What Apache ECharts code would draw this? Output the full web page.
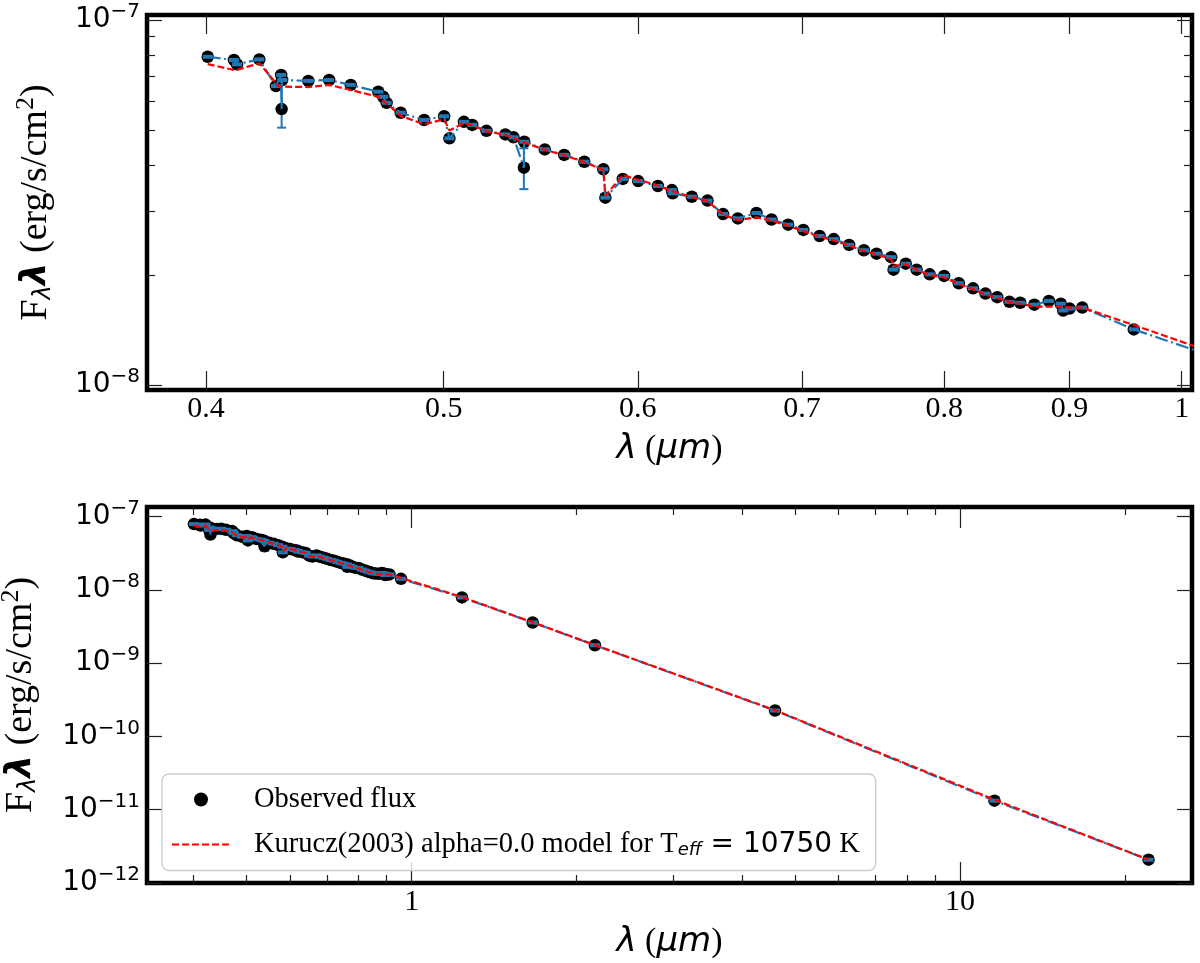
<!DOCTYPE html>
<html>
<head>
<meta charset="utf-8">
<title>SED</title>
<script src="https://cdn.jsdelivr.net/npm/echarts@6/dist/echarts.min.js"></script>
<style>
html, body { margin: 0; padding: 0; background: #fff; }
#main { width: 1200px; height: 963px; }
</style>
</head>
<body>
<div id="main"></div>
<script>
// 观测流量 (波长 um, F*lambda erg/s/cm2)
var obsWave = [0.4006,0.4106,0.4118,0.4205,0.4271,0.4292,0.4294,0.4296,0.4403,0.4490,0.4582,0.4702,0.4724,0.4739,0.4802,0.4909,0.5002,0.5027,0.5096,0.5136,
    0.5205,0.5298,0.5339,0.5391,0.5393,0.5498,0.5599,0.5706,0.5809,0.5820,0.5916,0.6002,0.6114,0.6195,0.6200,0.6312,0.6406,0.6500,0.6591,0.6707,
    0.6803,0.6910,0.7009,0.7117,0.7212,0.7317,0.7419,0.7508,0.7612,0.7629,0.7717,0.7796,0.7892,0.8000,0.8111,0.8220,0.8317,0.8409,0.8506,0.8593,
    0.8707,0.8827,0.8926,0.8947,0.9000,0.9108,0.9560,1.235,1.662,2.159,4.60,11.56,22.08];
var obsFlux = [7.93e-8,7.77e-8,7.56e-8,7.80e-8,6.59e-8,7.07e-8,5.70e-8,6.85e-8,6.81e-8,6.85e-8,6.64e-8,6.36e-8,6.16e-8,5.93e-8,5.57e-8,5.32e-8,5.45e-8,4.74e-8,5.26e-8,5.16e-8,
    4.97e-8,4.86e-8,4.77e-8,3.94e-8,4.64e-8,4.42e-8,4.27e-8,4.09e-8,3.90e-8,3.26e-8,3.67e-8,3.62e-8,3.51e-8,3.42e-8,3.35e-8,3.28e-8,3.20e-8,2.94e-8,2.86e-8,2.96e-8,
    2.84e-8,2.75e-8,2.66e-8,2.56e-8,2.51e-8,2.42e-8,2.34e-8,2.29e-8,2.24e-8,2.07e-8,2.15e-8,2.07e-8,2.01e-8,1.99e-8,1.90e-8,1.84e-8,1.78e-8,1.74e-8,1.69e-8,1.68e-8,
    1.66e-8,1.70e-8,1.67e-8,1.60e-8,1.62e-8,1.63e-8,1.42e-8,7.90e-9,3.60e-9,1.76e-9,2.26e-10,1.33e-11,2.08e-12];

// 误差棒 (只有两个点看得出来)
var errWave = [0.4294, 0.5391];
var errLow = [5.07e-8, 3.44e-8];
var errHigh = [7.00e-8, 4.45e-8];

// Kurucz 模型
var modelWave = [0.4006,0.4112,0.4205,0.4283,0.4403,0.4490,0.4582,0.4702,0.4739,0.4802,0.4909,0.5002,0.5027,0.5096,0.5136,0.5205,0.5298,0.5339,0.5392,0.5498,
    0.5599,0.5706,0.5809,0.5820,0.5916,0.6002,0.6114,0.6195,0.6312,0.6406,0.6500,0.6591,0.6707,0.6803,0.6910,0.7009,0.7117,0.7212,0.7317,0.7419,
    0.7508,0.7612,0.7629,0.7717,0.7796,0.7892,0.8000,0.8111,0.8220,0.8317,0.8409,0.8506,0.8593,0.8707,0.8827,0.8926,0.9000,0.9108,0.9560,1.235,
    1.662,2.159,4.60,11.56,22.08];
var modelFlux = [7.57e-8,7.28e-8,7.61e-8,6.57e-8,6.55e-8,6.64e-8,6.43e-8,6.16e-8,5.91e-8,5.46e-8,5.18e-8,5.34e-8,4.98e-8,5.22e-8,5.14e-8,4.96e-8,4.84e-8,4.75e-8,4.62e-8,4.41e-8,
    4.26e-8,4.08e-8,3.88e-8,3.30e-8,3.76e-8,3.65e-8,3.52e-8,3.40e-8,3.27e-8,3.19e-8,2.93e-8,2.83e-8,2.88e-8,2.82e-8,2.73e-8,2.64e-8,2.55e-8,2.49e-8,2.41e-8,2.33e-8,
    2.28e-8,2.21e-8,2.12e-8,2.14e-8,2.07e-8,2.00e-8,1.97e-8,1.89e-8,1.83e-8,1.77e-8,1.73e-8,1.69e-8,1.67e-8,1.64e-8,1.64e-8,1.64e-8,1.63e-8,1.63e-8,1.46e-8,8.0e-9,
    3.62e-9,1.77e-9,2.28e-10,1.37e-11,2.08e-12];

// 刻度
var topXTicks = [0.4, 0.5, 0.6, 0.7, 0.8, 0.9, 1];
var topYMajor = [1e-8, 1e-7];
var topYMinor = [2e-8, 3e-8, 4e-8, 5e-8, 6e-8, 7e-8, 8e-8, 9e-8];
var botXMajor = [1, 10];
var botXMinor = [0.4, 0.5, 0.6, 0.7, 0.8, 0.9, 2, 3, 4, 5, 6, 7, 8, 9, 20];
var botYMajor = [1e-12, 1e-11, 1e-10, 1e-9, 1e-8, 1e-7];

var MODEL_NAME = 'Kurucz(2003) alpha=0.0 model for Teff = 10750 K';
var SERIF = "'Liberation Serif', 'Times New Roman', serif";
var SANS = "'DejaVu Sans', sans-serif";
var BLUE = '#1f77b4';

var chart = echarts.init(document.getElementById('main'));

function pairs(xs, ys) {
    var out = [];
    for (var i = 0; i < xs.length; i++) out.push([xs[i], ys[i]]);
    return out;
}
// 蓝线: 离群点不画帽子
function blueData() {
    var out = [];
    for (var i = 0; i < obsWave.length; i++) {
        var item = { value: [obsWave[i], obsFlux[i]] };
        if (errWave.indexOf(obsWave[i]) >= 0) item.symbol = 'none';
        out.push(item);
    }
    return out;
}
function errData() {
    var out = [];
    for (var i = 0; i < errWave.length; i++) out.push([errWave[i], errLow[i], errHigh[i]]);
    return out;
}
function expLabel(v) {
    var e = Math.round(Math.log10(v));
    return '{b|10}{s|' + (e < 0 ? '\u2212' : '') + Math.abs(e) + '}';
}
var expRich = {
    b: { fontFamily: SANS, fontSize: 28, color: '#000' },
    s: { fontFamily: SANS, fontSize: 20, color: '#000', padding: [0, 0, 16, 0] }
};
var tickStyle = { color: '#222', width: 1.2 };
var nameRichX = {
    i: { fontFamily: SANS, fontStyle: 'italic', fontSize: 34, color: '#000' },
    p: { fontFamily: SERIF, fontSize: 34, color: '#000' }
};
var nameRichY = {
    t: { fontFamily: SERIF, fontSize: 38, color: '#000' },
    sub: { fontFamily: SANS, fontStyle: 'italic', fontSize: 24, color: '#000', padding: [16, 0, 0, 0] },
    bl: { fontFamily: SANS, fontStyle: 'italic', fontWeight: 'bold', fontSize: 36, color: '#000' },
    sup: { fontFamily: SERIF, fontSize: 26, color: '#000', padding: [0, 0, 20, 0] }
};
var X_NAME = '{i|\u03bb}{p| (}{i|\u03bcm}{p|)}';
var Y_NAME = '{t|F}{sub|\u03bb}{bl|\u03bb}{t| (erg/s/cm}{sup|2}{t|)}';

function xAx(grid, pos, min, max, ticks, len, labels, fmt, name) {
    return {
        gridIndex: grid, type: 'log', logBase: 10, min: min, max: max, position: pos,
        axisLine: { show: false }, splitLine: { show: false },
        axisTick: { show: true, inside: true, length: len, customValues: ticks, lineStyle: tickStyle },
        axisLabel: labels ? { show: true, customValues: ticks, formatter: fmt, margin: 4, color: '#000', fontFamily: SERIF, fontSize: 30 } : { show: false },
        name: name || '', nameLocation: 'middle', nameGap: 42, nameMoveOverlap: false,
        nameTextStyle: { rich: nameRichX }
    };
}
function yAx(grid, pos, min, max, ticks, len, labels, gap) {
    return {
        gridIndex: grid, type: 'log', logBase: 10, min: min, max: max, position: pos,
        axisLine: { show: false }, splitLine: { show: false },
        axisTick: { show: true, inside: true, length: len, customValues: ticks, lineStyle: tickStyle },
        axisLabel: labels ? { show: true, customValues: ticks, formatter: expLabel, margin: 7, rich: expRich } : { show: false },
        name: labels ? Y_NAME : '', nameLocation: 'middle', nameRotate: 90, nameGap: gap || 0, nameMoveOverlap: false,
        nameTextStyle: { rich: nameRichY }
    };
}

var TX = [0.3784, 1.0097], TY = [9.69e-9, 1.032e-7];
var BX = [0.329, 26.5], BY = [1e-12, 1.356e-7];

var option = {
    animation: false,
    backgroundColor: '#fff',
    grid: [
        { left: 147, top: 15, width: 1045, height: 375, show: true, borderColor: '#000', borderWidth: 4.5, backgroundColor: 'transparent', outerBoundsMode: 'none' },
        { left: 147, top: 507, width: 1045, height: 376, show: true, borderColor: '#000', borderWidth: 4.5, backgroundColor: 'transparent', outerBoundsMode: 'none' }
    ],
    xAxis: [
        xAx(0, 'bottom', TX[0], TX[1], topXTicks, 19, true, function (v) { return v >= 1 ? '1' : v.toFixed(1); }, X_NAME),
        xAx(0, 'top', TX[0], TX[1], topXTicks, 19, false),
        xAx(1, 'bottom', BX[0], BX[1], botXMajor, 21, true, function (v) { return String(Math.round(v)); }, X_NAME),
        xAx(1, 'bottom', BX[0], BX[1], botXMinor, 8, false),
        xAx(1, 'top', BX[0], BX[1], botXMajor, 21, false),
        xAx(1, 'top', BX[0], BX[1], botXMinor, 8, false)
    ],
    yAxis: [
        yAx(0, 'left', TY[0], TY[1], topYMajor, 15, true, 88),
        yAx(0, 'left', TY[0], TY[1], topYMinor, 8, false),
        yAx(0, 'right', TY[0], TY[1], topYMajor, 15, false),
        yAx(0, 'right', TY[0], TY[1], topYMinor, 8, false),
        yAx(1, 'left', BY[0], BY[1], botYMajor, 15, true, 103),
        yAx(1, 'right', BY[0], BY[1], botYMajor, 15, false)
    ],
    legend: {
        data: ['Observed flux', { name: MODEL_NAME, itemStyle: { opacity: 0 } }],
        orient: 'vertical', left: 162, top: 774,
        padding: [11, 16, 11, 9], itemGap: 16, itemWidth: 58, itemHeight: 14,
        backgroundColor: 'rgba(255,255,255,0.8)', borderColor: '#cccccc', borderWidth: 1.3, borderRadius: 7,
        selectedMode: false,
        textStyle: {
            fontFamily: SERIF, fontSize: 28.5, color: '#000', padding: [0, 0, 0, 19],
            rich: {
                t: { fontFamily: SERIF, fontSize: 28.5, color: '#000' },
                e: { fontFamily: SANS, fontStyle: 'italic', fontSize: 18, color: '#000', padding: [12, 0, 0, 0] },
                m: { fontFamily: SANS, fontSize: 28, color: '#000' }
            }
        },
        formatter: function (name) {
            if (name === MODEL_NAME) return '{t|Kurucz(2003) alpha=0.0 model for T}{e|eff}{m| = 10750}{t| K}';
            return name;
        }
    },
    series: []
};

// 两个面板用同样的数据
[[0, 0], [2, 4]].forEach(function (ax) {
    option.series.push({
        name: 'Observed flux', type: 'scatter', xAxisIndex: ax[0], yAxisIndex: ax[1], z: 2,
        symbol: 'circle', symbolSize: 12.5, itemStyle: { color: '#000', opacity: 1 },
        data: pairs(obsWave, obsFlux)
    });
    option.series.push({
        type: 'custom', xAxisIndex: ax[0], yAxisIndex: ax[1], z: 1,
        data: errData(), encode: { x: 0, y: [1, 2] },
        renderItem: function (params, api) {
            var x = api.value(0);
            var lo = api.coord([x, api.value(1)]);
            var hi = api.coord([x, api.value(2)]);
            var st = { stroke: BLUE, lineWidth: 2 };
            return {
                type: 'group', children: [
                    { type: 'line', shape: { x1: lo[0], y1: lo[1], x2: hi[0], y2: hi[1] }, style: st },
                    { type: 'line', shape: { x1: lo[0] - 4.5, y1: lo[1], x2: lo[0] + 4.5, y2: lo[1] }, style: st },
                    { type: 'line', shape: { x1: hi[0] - 4.5, y1: hi[1], x2: hi[0] + 4.5, y2: hi[1] }, style: st }
                ]
            };
        }
    });
    option.series.push({
        name: 'errbar', type: 'line', xAxisIndex: ax[0], yAxisIndex: ax[1], z: 3,
        symbol: 'rect', symbolSize: [10, 4], showSymbol: true, showAllSymbol: true,
        itemStyle: { color: BLUE }, lineStyle: { color: BLUE, width: 2.2, type: [13, 3.5, 2, 3.5] },
        data: blueData()
    });
    option.series.push({
        name: MODEL_NAME, type: 'line', xAxisIndex: ax[0], yAxisIndex: ax[1], z: 4,
        symbol: 'none', itemStyle: { color: '#ff0000' }, lineStyle: { color: '#ff0000', width: 2.2, type: [7, 3] },
        data: pairs(modelWave, modelFlux)
    });
});

chart.setOption(option);
window.addEventListener('resize', function () { chart.resize(); });
</script>
</body>
</html>
